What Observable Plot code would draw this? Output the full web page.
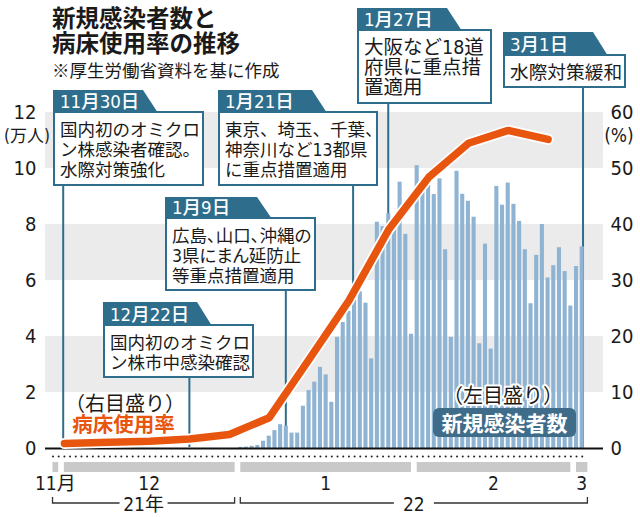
<!DOCTYPE html>
<html><head><meta charset="utf-8">
<script src="https://cdn.jsdelivr.net/npm/d3@7"></script>
<script src="https://cdn.jsdelivr.net/npm/@observablehq/plot@0.6"></script>
<style>html,body{margin:0;padding:0;background:#fff;} svg{display:block}</style>
</head><body><div id="chart"></div>
<script>
// ---------- data ----------
const title = ["新規感染者数と", "病床使用率の推移"];
const subtitle = "※厚生労働省資料を基に作成";

// daily new cases (万人), from 2022-01-01
const casesStart = [2022, 0, 1];
const newCases = [
  0.04,0.05,0.08,0.11,0.26,0.44,0.64,0.85,0.80,0.55,0.55,1.51,2.07,2.37,2.90,2.63,1.65,3.97,4.50,4.90,5.30,5.60,5.19,3.20,8.08,7.92,8.38,7.90,9.51,7.65,4.08,
  10.10,9.45,9.39,9.07,9.63,7.10,3.97,9.90,9.08,8.83,8.26,3.74,7.30,3.55,9.36,8.69,9.48,8.72,8.11,7.10,5.17,6.90,8.00,6.09,6.53,7.17,6.32,5.09,
  6.50,7.20
];

// bed usage rate (%)
const rateDates = ["2021-12-01","2021-12-09","2021-12-16","2021-12-23","2021-12-30","2022-01-06","2022-01-13","2022-01-20","2022-01-27","2022-02-03","2022-02-10","2022-02-17","2022-02-24"];
const bedRate = [0.9,1.1,1.3,1.7,2.5,5.5,15.9,26.4,39.1,48.4,54.5,56.8,55.2];

const leftTicks = [0,2,4,6,8,10,12];
const rightTicks = [0,10,20,30,40,50,60];
const leftUnit = "(万人)";
const rightUnit = "(%)";

const monthLabels = ["11月","12","1","2","3"];
const monthFirst = ["2021-11-29","2021-12-01","2022-01-01","2022-02-01","2022-03-01"];
const monthLast  = ["2021-11-30","2021-12-31","2022-01-31","2022-02-28","2022-03-03"];
const yearLabels = ["21年","22"];
const yearFirst = ["2021-11-29","2022-01-01"];
const yearLast  = ["2021-12-31","2022-03-03"];
const dayFirst = "2021-11-29", dayLast = "2022-03-02";

const eventDates  = ["2021-11-30","2021-12-22","2022-01-09","2022-01-21","2022-01-27","2022-03-01"];
const eventTitles = ["11月30日","12月22日","1月9日","1月21日","1月27日","3月1日"];
const eventTexts  = [
  ["国内初のオミクロ","ン株感染者確認。","水際対策強化"],
  ["国内初のオミクロ","ン株市中感染確認"],
  ["広島、山口、沖縄の","3県にまん延防止","等重点措置適用"],
  ["東京、埼玉、千葉、","神奈川など13都県","に重点措置適用"],
  ["大阪など18道","府県に重点措","置適用"],
  ["水際対策緩和"]
];
const rateLabel = "病床使用率", rateNote = "（右目盛り）";
const casesLabel = "新規感染者数", casesNote = "（左目盛り）";

// ---------- layout / style ----------
const FONT = '"Liberation Sans Narrow","DejaVu Sans Condensed","Noto Sans CJK JP",sans-serif';
const CJK = '"Noto Sans CJK JP",sans-serif';
const BAR = "#8fb4d3", ORANGE = "#e8550f", TEAL = "#2e6e8c", PILL = "#3f6c89", BAND = "#ebebeb", MONTHBAR = "#c9c9c9";
const DAY = 864e5;
const noon = s => { const [y,m,d] = s.split("-").map(Number); return new Date(Date.UTC(y, m-1, d, 12)); };
const xDomain = [new Date(Date.UTC(2021,10,28,4,19)), new Date(Date.UTC(2022,2,6,5,45))];

const cases = newCases.map((v,i) => ({date: new Date(Date.UTC(casesStart[0], casesStart[1], casesStart[2]+i, 12)), v}));
const rate = rateDates.map((d,i) => ({date: noon(d), p: bedRate[i]}));
const days = d3.utcDay.range(noon(dayFirst) - 12*3600e3, noon(dayLast).getTime() - 12*3600e3 + DAY).map(d => new Date(+d + 12*3600e3));
const bands = [[2,4],[6,8],[10,12]].map(([a,b]) => ({y1: leftTicks[leftTicks.indexOf(a)], y2: leftTicks[leftTicks.indexOf(b)]}));
const ratio = rightTicks[rightTicks.length-1] / leftTicks[leftTicks.length-1];

const plot = Plot.plot({
  width: 640, height: 517,
  marginLeft: 45, marginRight: 37, marginTop: 112, marginBottom: 69,
  x: {type: "utc", domain: xDomain, axis: null},
  y: {domain: [0, 12], axis: null},
  style: {fontFamily: FONT, background: "white", overflow: "visible", color: "#1a1a1a"},
  marks: [
    Plot.rect(bands, {x1: () => xDomain[0], x2: () => xDomain[1], y1: "y1", y2: "y2", fill: BAND}),
    Plot.axisY(leftTicks, {anchor: "left", tickSize: 0, tickPadding: 9, fontSize: 20, label: null}),
    Plot.axisY(leftTicks, {anchor: "right", tickSize: 0, tickPadding: 7, fontSize: 20, label: null, tickFormat: d => d * ratio}),
    Plot.rectY(cases, {x1: d => new Date(+d.date - 0.36*DAY), x2: d => new Date(+d.date + 0.36*DAY), y: "v", fill: BAR, ariaLabel: "bars"}),
    Plot.ruleY([0], {stroke: "#111", strokeWidth: 2}),
    Plot.dot(days, {x: d => d, frameAnchor: "bottom", dy: 8, r: 1, fill: "#222", stroke: null}),
    Plot.line(rate, {x: "date", y: d => d.p / ratio, stroke: "white", strokeWidth: 11, strokeLinejoin: "round", strokeLinecap: "round"}),
    Plot.line(rate, {x: "date", y: d => d.p / ratio, stroke: ORANGE, strokeWidth: 7.5, strokeLinejoin: "round", strokeLinecap: "round"})
  ]
});
document.getElementById("chart").appendChild(plot);

const svg = d3.select(plot);
const xs = d => plot.scale("x").apply(d);
const ys = v => plot.scale("y").apply(v);

// axis units
const ug = svg.append("g").attr("font-family", FONT).attr("fill", "#1a1a1a").attr("text-anchor", "middle");
ug.append("text").attr("x", 27).attr("y", ys(12) + 30).attr("font-size", 17).text(leftUnit);
ug.append("text").attr("x", 619).attr("y", ys(12) + 30).attr("font-size", 19).text(rightUnit);

// leaders behind bars
const boxes = [
  {x: 53,  tabTop: 90,  tabW: 90, top: 112, w: 150, h: 73, nudge: 5,  fs: 17.5},
  {x: 103, tabTop: 302, tabW: 94, top: 325, w: 150, h: 52, nudge: 6,  fs: 17.5},
  {x: 165, tabTop: 197, tabW: 92, top: 218, w: 150, h: 72, nudge: 0,  fs: 17.5, palt: true},
  {x: 218, tabTop: 90,  tabW: 94, top: 112, w: 159, h: 73, nudge: -1, fs: 17.5},
  {x: 357, tabTop: 8,   tabW: 90, top: 30,  w: 134, h: 73, nudge: 0,  fs: 19.5},
  {x: 503, tabTop: 32,  tabW: 90, top: 55,  w: 122, h: 32, nudge: 7,  fs: 18.7}
];
let barsNode = svg.select("g[aria-label='bars']").node();
if (!barsNode) barsNode = svg.selectAll("g[aria-label='rect']").nodes()[1];
const lg = svg.insert("g", () => barsNode);
eventDates.forEach((d, i) => {
  const b = boxes[i], lx = xs(noon(d)) + b.nudge;
  lg.append("line").attr("x1", lx).attr("x2", lx).attr("y1", b.top + b.h).attr("y2", ys(0) - 1)
    .attr("stroke", TEAL).attr("stroke-width", 2);
});

// callout boxes
const cg = svg.append("g").attr("text-anchor", "start").attr("font-family", FONT);
eventDates.forEach((d, i) => {
  const b = boxes[i];
  cg.append("path").attr("d", `M${b.x},${b.tabTop}H${b.x + b.tabW}L${b.x + b.tabW + 15},${b.top + 1}H${b.x}Z`).attr("fill", TEAL);
  cg.append("rect").attr("x", b.x + 1).attr("y", b.top).attr("width", b.w - 1).attr("height", b.h)
    .attr("fill", "white").attr("stroke", TEAL).attr("stroke-width", 2);
  cg.append("text").attr("x", b.x + 7).attr("y", b.top - 4).attr("fill", "white")
    .attr("font-size", 18.5).attr("font-weight", 500).text(eventTitles[i]);
  eventTexts[i].forEach((t, j) => {
    cg.append("text").attr("x", b.x + 7).attr("y", b.top + 24 + j * 20).attr("fill", "#1a1a1a")
      .attr("font-size", b.fs)
      .style("font-feature-settings", b.palt ? '"palt"' : null).text(t);
  });
});

// month bars, labels, year brackets
const ag = svg.append("g").attr("font-family", FONT).attr("fill", "#1a1a1a").attr("text-anchor", "middle");
monthLabels.forEach((m, i) => {
  const a = xs(noon(monthFirst[i])), b = xs(noon(monthLast[i]));
  ag.append("rect").attr("x", a).attr("y", 462).attr("width", b - a).attr("height", 10).attr("fill", MONTHBAR);
  ag.append("text").attr("x", (a + b) / 2).attr("y", 490).attr("font-size", 19).text(m);
});
yearLabels.forEach((y, i) => {
  const a = xs(noon(yearFirst[i])), b = xs(noon(yearLast[i])), c = (a + b) / 2, gap = i === 0 ? 24 : 20;
  ag.append("path").attr("d", `M${a},497V503H${c - gap}M${c + gap},503H${b}V497`).attr("fill", "none").attr("stroke", "#333").attr("stroke-width", 1.3);
  ag.append("text").attr("x", c).attr("y", 511).attr("font-size", 19).text(y);
});

// series labels
const tg = svg.append("g").attr("font-family", FONT).attr("text-anchor", "middle");
tg.append("text").attr("x", 125).attr("y", 411).attr("font-size", 20).attr("fill", "#1a1a1a").text(rateNote);
tg.append("text").attr("x", 123.5).attr("y", 432).attr("font-size", 20.5).attr("font-weight", 700).attr("fill", ORANGE).text(rateLabel);
tg.append("text").attr("x", 503).attr("y", 403).attr("font-size", 20).attr("fill", "#1a1a1a")
  .attr("stroke", "white").attr("stroke-width", 4).attr("paint-order", "stroke").attr("stroke-linejoin", "round").text(casesNote);
tg.append("rect").attr("x", 433).attr("y", 408).attr("width", 143).attr("height", 29).attr("rx", 6).attr("fill", PILL);
tg.append("text").attr("x", 504.5).attr("y", 431).attr("font-size", 21).attr("font-weight", 700).attr("fill", "white").text(casesLabel);

// title
const hg = svg.append("g").attr("font-family", CJK).attr("fill", "#1a1a1a").attr("text-anchor", "start");
title.forEach((t, i) => hg.append("text").attr("x", 52).attr("y", 27 + i * 25).attr("font-size", 23.5).attr("font-weight", 700).text(t));
hg.append("text").attr("x", 52).attr("y", 77).attr("font-size", 17.5).text(subtitle);
</script>
</body></html>
